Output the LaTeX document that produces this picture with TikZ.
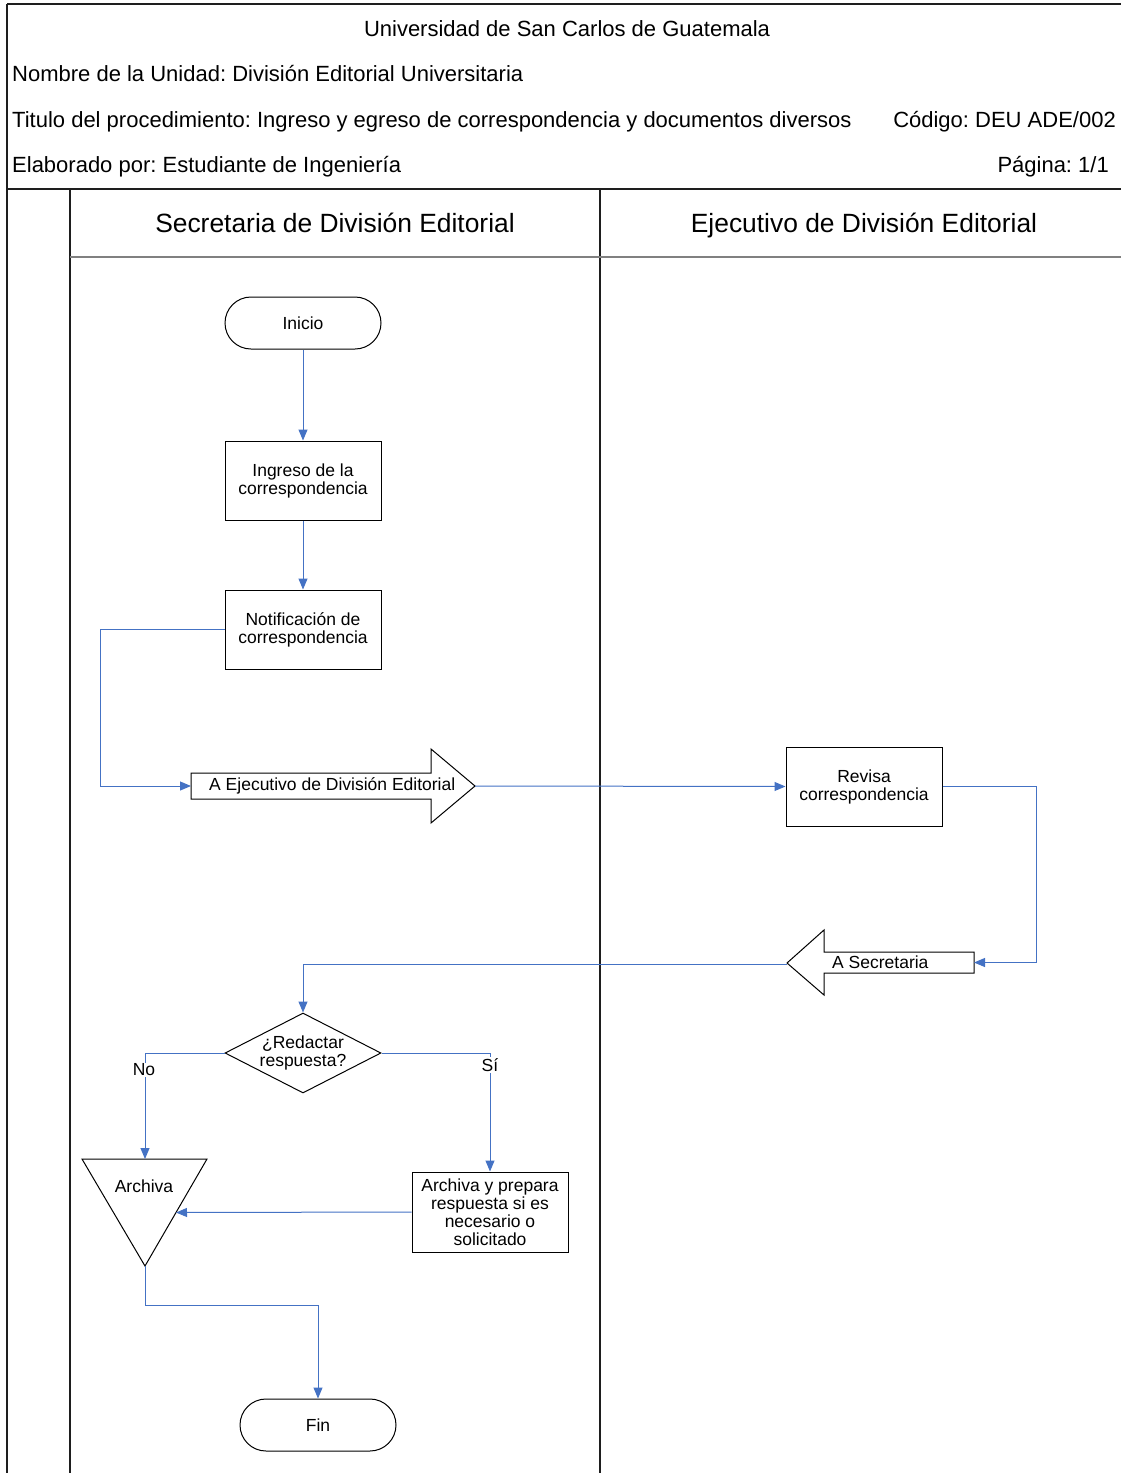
\documentclass[tikz,border=0pt]{standalone}
\usepackage{fontspec}
\setmainfont{Liberation Sans}
\usetikzlibrary{shapes.geometric,arrows.meta,calc}
\definecolor{flowblue}{RGB}{68,114,196}
\definecolor{framegray}{RGB}{30,30,30}
\frenchspacing

\begin{document}
\begin{tikzpicture}[x=1pt,y=-1pt,
  frame/.style={draw=framegray,line width=1.5pt},
  hdr/.style={inner sep=0pt,font=\fontsize{22}{26}\selectfont},
  lane/.style={inner sep=0pt,font=\fontsize{26.4}{30}\selectfont},
  body/.style={font=\fontsize{17.5}{18}\selectfont,align=center},
  outline/.style={draw=black,line width=1pt},
  procbox/.style={body,outline,minimum width=156pt,minimum height=79pt,inner sep=2pt},
  term/.style={body,outline,rounded corners=26pt,minimum width=156pt,minimum height=52pt},
  decision/.style={body,outline,diamond,aspect=1.95,minimum width=156pt,minimum height=80pt,inner sep=0pt},
  flow/.style={draw=flowblue,line width=1pt,-{Triangle[length=11pt,width=9pt]}},
  branch/.style={body,fill=white,inner sep=1pt},
]
\useasboundingbox (0,0) rectangle (1121,1473);

% form frame and swimlanes
\draw[frame] (7,4) -- (1122,4);
\draw[frame] (7,4) -- (7,1474);
\draw[frame] (7,189) -- (1122,189);
\draw[frame] (70,189) -- (70,1474);
\draw[frame] (600,189) -- (600,1474);
\draw[frame,draw=gray] (70,257) -- (1122,257);

% header block
\node[hdr,anchor=base] (univ) at (567,36) {Universidad de San Carlos de Guatemala};
\node[hdr,anchor=base west] (unidad) at (12,81) {Nombre de la Unidad: División Editorial Universitaria};
\node[hdr,anchor=base west] (titulo) at (12,127) {Titulo del procedimiento: Ingreso y egreso de correspondencia y documentos diversos};
\node[hdr,anchor=base east] (codigo) at (1116,127) {Código: DEU ADE/002};
\node[hdr,anchor=base west] (elab) at (12,172) {Elaborado por: Estudiante de Ingeniería};
\node[hdr,anchor=base east] (pagina) at (1109,172) {Página: 1/1};

% lane titles
\node[lane,anchor=base] (laneA) at (335,232) {Secretaria de División Editorial};
\node[lane,anchor=base] (laneB) at (864,232) {Ejecutivo de División Editorial};

% process steps
\node[term] (ini) at (303,323) {Inicio};
\node[procbox] (ing) at (303,480.5) {Ingreso de la\\correspondencia};
\node[procbox] (notif) at (303,629.5) {Notificación de\\correspondencia};

% block arrow towards the executive
\draw[outline] (191,773) -- (431,773) -- (431,749) -- (475,786) -- (431,823) -- (431,799) -- (191,799) -- cycle;
\coordinate (ejTail) at (191,786);
\coordinate (ejTip) at (475,786);
\node[body,anchor=west,inner sep=0pt] (ejLbl) at (209,786) {A Ejecutivo de División Editorial};

\node[procbox] (rev) at (864,786.5) {Revisa\\correspondencia};

% block arrow back to the secretary
\draw[outline] (974,952) -- (824,952) -- (824,930) -- (787,963) -- (824,995) -- (824,973) -- (974,973) -- cycle;
\coordinate (secTail) at (974,962.5);
\coordinate (secTip) at (787,964);
\node[body,anchor=west,inner sep=0pt] (secLbl) at (832,962.5) {A Secretaria};

\node[decision] (dec) at (303,1053) {¿Redactar\\respuesta?};
\node[procbox,minimum height=80pt] (prep) at (490,1212) {Archiva y prepara\\respuesta si es\\necesario o\\solicitado};

% archive (inverted triangle)
\draw[outline] (82,1159) -- (207,1159) -- (145,1266) -- cycle;
\coordinate (triTop) at (145,1159);
\coordinate (triBot) at (145,1266);
\coordinate (triSide) at ($(207,1159)!0.5!(145,1266)$);
\node[body] (archLbl) at (144,1186) {Archiva};

\node[term] (fin) at (318,1425) {Fin};

% connectors
\draw[flow] (ini) -- (ing);
\draw[flow] (ing) -- (notif);
\draw[flow] (notif.west) -- ++(-124,0) |- (ejTail);
\draw[flow] (ejTip) -- (rev.west);
\draw[flow] (rev.east) -- ++(94,0) |- (secTail);
\draw[flow] (secTip) -| (dec.north);
\draw[flow] (dec.west) -| (triTop);
\draw[flow] (dec.east) -| (prep.north);
\draw[flow] (prep.west) -- (triSide);
\draw[flow] (triBot) -- ++(0,39) -| (fin.north);

% branch labels
\node[branch] (noLbl) at (144,1070) {No};
\node[branch] (siLbl) at (490,1065) {Sí};
\end{tikzpicture}
\end{document}
